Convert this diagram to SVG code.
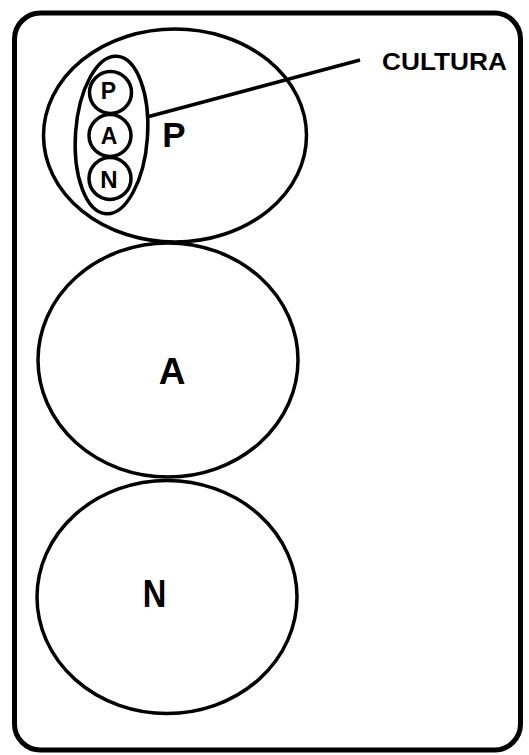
<svg xmlns="http://www.w3.org/2000/svg" width="529" height="755" viewBox="0 0 529 755">
<style>
.s{fill:none;stroke:#000;stroke-width:3.5}
.t{font-family:"Liberation Sans",Arial,sans-serif;font-weight:bold;fill:#000;text-anchor:middle}
</style>
<rect width="529" height="755" fill="#fff"/>
<g id="frame"><rect x="14.5" y="13" width="506" height="737" rx="26" ry="26" fill="none" stroke="#000" stroke-width="5"/></g>
<g id="node-P">
<ellipse class="s" cx="175" cy="135.5" rx="131.5" ry="106.5"/>
<text class="t" x="174" y="147" font-size="35">P</text>
</g>
<g id="node-cultura">
<ellipse class="s" cx="111.5" cy="135" rx="36" ry="79" transform="rotate(4 111.5 135)"/>
<circle id="small-P" class="s" cx="110.5" cy="92.5" r="21"/>
<circle id="small-A" class="s" cx="110" cy="135.5" r="21"/>
<circle id="small-N" class="s" cx="110" cy="178.5" r="21"/>
<text class="t" x="108.5" y="99" font-size="23">P</text>
<text class="t" x="109" y="144" font-size="23">A</text>
<text class="t" x="109" y="188" font-size="24">N</text>
</g>
<g id="node-A">
<ellipse class="s" cx="168" cy="360" rx="130" ry="117"/>
<text class="t" x="172" y="384" font-size="37">A</text>
</g>
<g id="node-N">
<ellipse class="s" cx="167" cy="597" rx="130" ry="116.5"/>
<text class="t" x="154.5" y="607" font-size="38" transform="translate(154.5 0) scale(0.86 1) translate(-154.5 0)">N</text>
</g>
<g id="connectors">
<line x1="147" y1="117" x2="360" y2="60" stroke="#000" stroke-width="3.5"/>
</g>
<g id="label-cultura">
<text class="t" x="444.5" y="70" font-size="23" textLength="125" lengthAdjust="spacingAndGlyphs">CULTURA</text>
</g>
</svg>
